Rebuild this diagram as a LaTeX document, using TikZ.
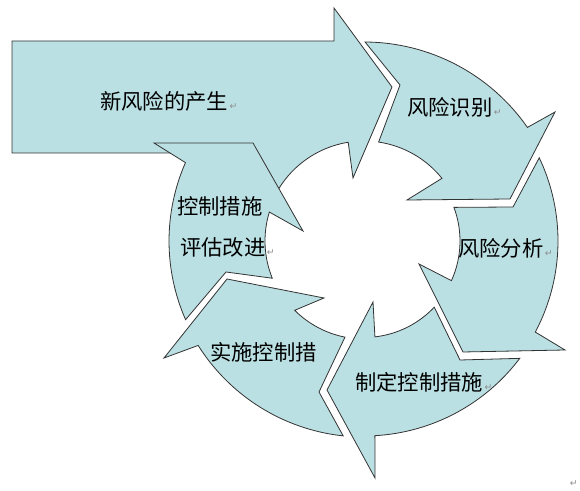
\documentclass[tikz,border=0pt]{standalone}
\usepackage{fontspec}
\newfontfamily\cjkfont{Noto Sans CJK SC}
\newfontfamily\symfont{DejaVu Sans}
\usetikzlibrary{calc}
\definecolor{arrowfill}{HTML}{BBE0E3}
\definecolor{arrowline}{HTML}{333333}
\newcommand{\retmark}{\hspace{1pt}{\symfont\fontsize{7}{7}\selectfont\textcolor{black!45}{↵}}}
\begin{document}
\begin{tikzpicture}[x=0.75pt,y=0.75pt,
  shapebox/.style={fill=arrowfill, draw=arrowline, line width=0.6pt, line join=miter},
  lbl/.style={font=\cjkfont\fontsize{16}{16}\selectfont, inner sep=0pt, anchor=west, text=black}]
\useasboundingbox (0,0) rectangle (580,491);
\coordinate (C) at (364,250);

% big straight arrow (with hidden cycle segment behind it)
\path[shapebox] (12,338) -- (12,450) -- (334,450) -- (334,483) -- (392,404) -- (353,313)
  -- ($(C)+(99.1:100)$) arc[start angle=99.1, end angle=153, radius=100]
  -- (240,321) -- (200,338) -- cycle;

% A1 risk identification
\path[shapebox] ($(C)+(89.7:199)$) -- (400,406) -- ($(C)+(81.6:100)$)
  arc[start angle=81.6, end angle=38.8, radius=100]
  -- (407,291) -- (510,292) -- (555,379) -- ($(C)+(34.8:199)$)
  arc[start angle=34.8, end angle=89.7, radius=199] -- cycle;

% A2 risk analysis
\path[shapebox] ($(C)+(25.4:194)$) -- (513,284) -- ($(C)+(20.5:96)$)
  arc[start angle=20.5, end angle=-24.4, radius=96]
  -- (419,227) -- (463,139) -- (565,141) -- ($(C)+(-28:194)$)
  arc[start angle=-28, end angle=25.4, radius=194] -- cycle;

% A3 define measures
\path[shapebox] ($(C)+(-37:195)$) -- (460,131) -- ($(C)+(-43.3:96.5)$)
  arc[start angle=-43.3, end angle=-83.5, radius=96.5]
  -- (373,189) -- (327,101) -- (375,13) -- ($(C)+(-86.8:195)$)
  arc[start angle=-86.8, end angle=-37, radius=195] -- cycle;

% A4 implement
\path[shapebox] ($(C)+(-96.1:196)$) -- (319,99) -- ($(C)+(-101.2:98)$)
  arc[start angle=-101.2, end angle=-135, radius=98]
  -- (324,193) -- (227,212) -- (164,133) -- ($(C)+(-147.8:196)$)
  arc[start angle=-147.8, end angle=-96.1, radius=196] -- cycle;

% A5 evaluate
\path[shapebox] ($(C)+(203.8:195)$) -- (226,219) -- ($(C)+(202.1:99)$)
  arc[start angle=202.1, end angle=163, radius=99]
  -- (303,260) -- (253,348) -- (154,348) -- ($(C)+(156.3:195)$)
  arc[start angle=156.3, end angle=203.8, radius=195] -- cycle;

% labels
\node[lbl] (t0) at (100,390) {新风险的产生\retmark};
\node[lbl] (t1) at (407,384) {风险识别\retmark};
\node[lbl] (t2) at (458,243) {风险分析\retmark};
\node[lbl] (t3) at (355,109) {制定控制措施\retmark};
\node[lbl] (t4) at (210,139) {实施控制措};
\node[lbl] (t5a) at (177,285) {控制措施};
\node[lbl] (t5b) at (180,244) {评估改进\retmark};
\node[inner sep=0pt] (rm) at (573,7) {\retmark};
\end{tikzpicture}
\end{document}
